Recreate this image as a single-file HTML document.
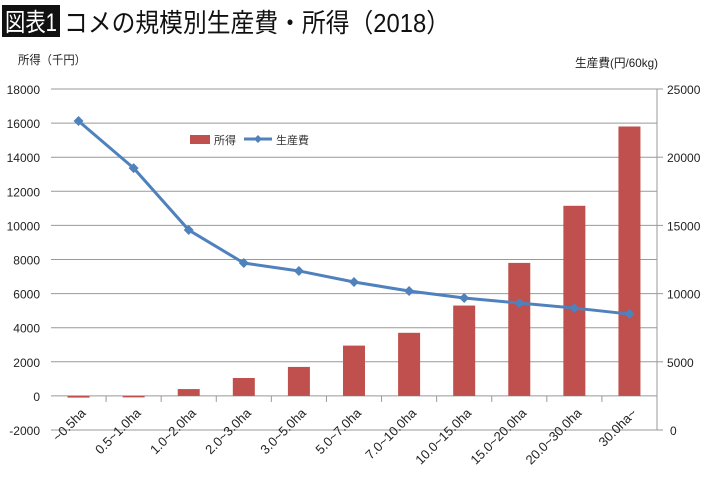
<!DOCTYPE html>
<html><head><meta charset="utf-8"><style>
body{margin:0;background:#fff;width:710px;height:482px;overflow:hidden;font-family:"Liberation Sans","Noto Sans CJK JP",sans-serif;}
</style></head><body>
<svg width="710" height="482" id="c" font-family="Liberation Sans, Noto Sans CJK JP, sans-serif">
<rect x="2" y="5" width="58" height="32" fill="#111"/>
<text x="5" y="31" font-size="25" fill="#fff" textLength="52" lengthAdjust="spacingAndGlyphs">図表1</text>
<text x="64" y="32" font-size="26" fill="#111" textLength="386" lengthAdjust="spacingAndGlyphs">コメの規模別生産費・所得（2018）</text>
<text x="18" y="64" font-size="12" fill="#222" textLength="68" lengthAdjust="spacingAndGlyphs">所得（千円）</text>
<text x="575" y="67" font-size="12" fill="#222" textLength="83" lengthAdjust="spacingAndGlyphs">生産費(円/60kg)</text>
<g id="grid"></g><g id="bars"></g><g id="line"></g><g id="axes"></g>
<rect x="190" y="135" width="20" height="9" fill="#c0504d"/>
<text x="214" y="144" font-size="11" fill="#333">所得</text>
<line x1="244" y1="139" x2="272" y2="139" stroke="#4f81bd" stroke-width="3"/>
<path d="M258 135L262 139L258 143L254 139Z" fill="#4f81bd"/>
<text x="276" y="144" font-size="11" fill="#333">生産費</text>
</svg>
<script>
const categories=["~0.5ha","0.5~1.0ha","1.0~2.0ha","2.0~3.0ha","3.0~5.0ha","5.0~7.0ha","7.0~10.0ha","10.0~15.0ha","15.0~20.0ha","20.0~30.0ha","30.0ha~"];
const income=[-100,-50,400,1050,1700,2950,3700,5300,7800,11150,15800];
const cost=[22650,19200,14660,12240,11660,10850,10190,9680,9310,8940,8500];
const leftTicks=[-2000,0,2000,4000,6000,8000,10000,12000,14000,16000,18000];
const rightTicks=[0,5000,10000,15000,20000,25000];
const NS="http://www.w3.org/2000/svg";
const X0=51,X1=657,YT=89,YB=430;
const yL=v=>YB-(v+2000)/20000*(YB-YT);
const yR=v=>YB-v/25000*(YB-YT);
const bw=(X1-X0)/categories.length;
const xc=i=>X0+bw*(i+0.5);
function mk(t,a,p){const e=document.createElementNS(NS,t);for(const k in a)e.setAttribute(k,a[k]);document.getElementById(p).appendChild(e);return e;}
leftTicks.forEach(v=>{
 const g=mk('line',{x1:X0,x2:X1,y1:yL(v),y2:yL(v),stroke:'#999','stroke-width':1},'grid');
 
 
 const t=mk('text',{x:40,y:yL(v)+5,'font-size':12,'text-anchor':'end',fill:'#222'},'axes');t.textContent=v;
 
 
});
rightTicks.forEach(v=>{
 mk('line',{x1:X1,x2:X1+6,y1:yR(v),y2:yR(v),stroke:'#999'},'axes');
 const t=mk('text',{x:v==0?670:667,y:yR(v)+5,'font-size':12,fill:'#222'},'axes');t.textContent=v;
 
 
});
mk('line',{x1:X1,x2:X1,y1:YT,y2:YB,stroke:'#999'},'axes');
categories.forEach((c,i)=>{
 const v=income[i];const y0=yL(0),y1=yL(v);
 const r=mk('rect',{x:xc(i)-11,y:Math.min(y0,y1),width:22,height:Math.max(1.5,Math.abs(y1-y0)),fill:'#c0504d'},'bars');
 
 
 mk('line',{x1:X0+bw*(i+1),x2:X0+bw*(i+1),y1:yL(0),y2:yL(0)+6,stroke:'#999'},'axes');
 const t=mk('text',{x:xc(i)+8,y:yL(0)+18,'font-size':13,'text-anchor':'end',fill:'#222',transform:`rotate(-45 ${xc(i)+8} ${yL(0)+18})`},'axes');t.textContent=c;
 
 
});
const pl=mk('polyline',{points:cost.map((v,i)=>xc(i)+','+yR(v)).join(' '),fill:'none',stroke:'#4f81bd','stroke-width':3},'line');


cost.forEach((v,i)=>{const x=xc(i),y=yR(v);
 const p=mk('path',{d:`M${x} ${y-5}L${x+5} ${y}L${x} ${y+5}L${x-5} ${y}Z`,fill:'#4f81bd'},'line');
 
 
});
</script>
</body></html>
